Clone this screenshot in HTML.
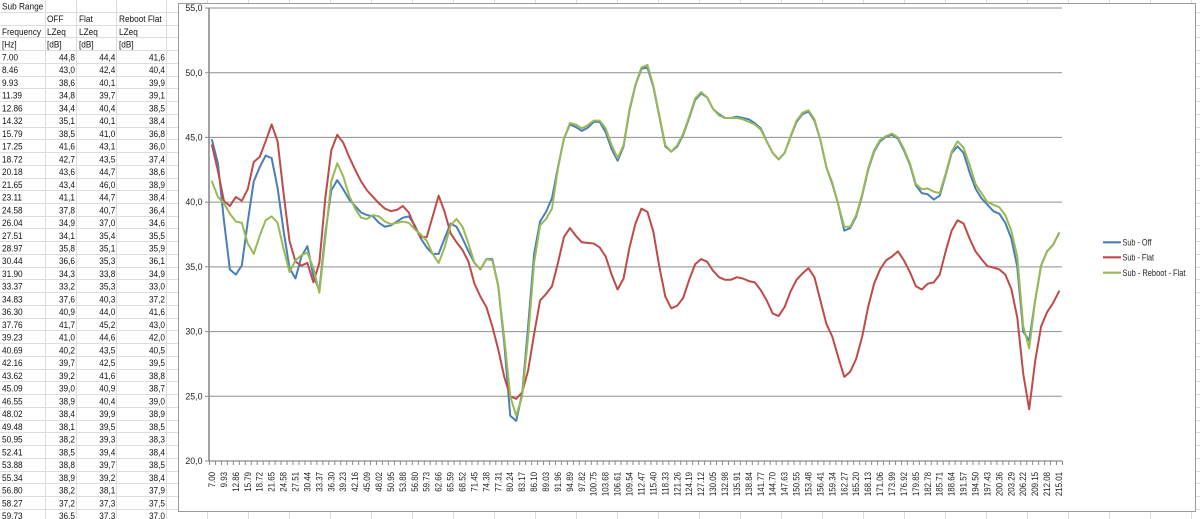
<!DOCTYPE html>
<html><head><meta charset="utf-8"><style>
html,body{margin:0;padding:0;background:#fff;}
svg{display:block;}
text{font-family:"Liberation Sans",sans-serif;}
</style></head><body>
<svg xmlns="http://www.w3.org/2000/svg" width="1200" height="519" viewBox="0 0 1200 519">
<rect width="1200" height="519" fill="#fff"/>
<!-- spreadsheet grid -->
<path fill="none" stroke="#dadcdf" stroke-width="1" d="M0 12.5H1200M0 25.5H1200M0 37.5H1200M0 50.5H1200M0 63.5H1200M0 76.5H1200M0 88.5H1200M0 101.5H1200M0 114.5H1200M0 127.5H1200M0 139.5H1200M0 152.5H1200M0 165.5H1200M0 178.5H1200M0 190.5H1200M0 203.5H1200M0 216.5H1200M0 228.5H1200M0 241.5H1200M0 254.5H1200M0 267.5H1200M0 279.5H1200M0 292.5H1200M0 305.5H1200M0 318.5H1200M0 330.5H1200M0 343.5H1200M0 356.5H1200M0 369.5H1200M0 381.5H1200M0 394.5H1200M0 407.5H1200M0 420.5H1200M0 432.5H1200M0 445.5H1200M0 458.5H1200M0 471.5H1200M0 483.5H1200M0 496.5H1200M0 509.5H1200"/>
<path fill="none" stroke="#dadcdf" stroke-width="1" d="M45.5 0V519M76.5 0V519M116.5 0V519M166.5 0V519M207.5 0V519M248.5 0V519M289.5 0V519M330.5 0V519M371.5 0V519M412.5 0V519M453.5 0V519M494.5 0V519M535.5 0V519M576.5 0V519M617.5 0V519M658.5 0V519M699.5 0V519M740.5 0V519M781.5 0V519M822.5 0V519M863.5 0V519M904.5 0V519M945.5 0V519M986.5 0V519M1027.5 0V519M1068.5 0V519M1109.5 0V519M1150.5 0V519M1191.5 0V519"/>

<!-- spreadsheet text: column A -->
<g transform="translate(2,0) scale(0.86,1)" font-size="9.6" fill="#111">
<text x="0" y="9.4">Sub Range</text>
<text x="0" y="34.9">Frequency</text>
<text x="0" y="47.7">[Hz]</text>
<text x="0" y="60.4">7.00</text>
<text x="0" y="73.1">8.46</text>
<text x="0" y="85.9">9.93</text>
<text x="0" y="98.6">11.39</text>
<text x="0" y="111.4">12.86</text>
<text x="0" y="124.1">14.32</text>
<text x="0" y="136.8">15.79</text>
<text x="0" y="149.6">17.25</text>
<text x="0" y="162.3">18.72</text>
<text x="0" y="175.1">20.18</text>
<text x="0" y="187.8">21.65</text>
<text x="0" y="200.5">23.11</text>
<text x="0" y="213.3">24.58</text>
<text x="0" y="226.0">26.04</text>
<text x="0" y="238.8">27.51</text>
<text x="0" y="251.5">28.97</text>
<text x="0" y="264.2">30.44</text>
<text x="0" y="277.0">31.90</text>
<text x="0" y="289.7">33.37</text>
<text x="0" y="302.5">34.83</text>
<text x="0" y="315.2">36.30</text>
<text x="0" y="327.9">37.76</text>
<text x="0" y="340.7">39.23</text>
<text x="0" y="353.4">40.69</text>
<text x="0" y="366.2">42.16</text>
<text x="0" y="378.9">43.62</text>
<text x="0" y="391.6">45.09</text>
<text x="0" y="404.4">46.55</text>
<text x="0" y="417.1">48.02</text>
<text x="0" y="429.9">49.48</text>
<text x="0" y="442.6">50.95</text>
<text x="0" y="455.3">52.41</text>
<text x="0" y="468.1">53.88</text>
<text x="0" y="480.8">55.34</text>
<text x="0" y="493.6">56.80</text>
<text x="0" y="506.3">58.27</text>
<text x="0" y="519.0">59.73</text>
</g>
<g transform="translate(47,0) scale(0.86,1)" font-size="9.6" fill="#111">
<text x="0" y="22.2">OFF</text><text x="0" y="34.9">LZeq</text><text x="0" y="47.7">[dB]</text>
</g>
<g transform="translate(79,0) scale(0.86,1)" font-size="9.6" fill="#111">
<text x="0" y="22.2">Flat</text><text x="0" y="34.9">LZeq</text><text x="0" y="47.7">[dB]</text>
</g>
<g transform="translate(119,0) scale(0.86,1)" font-size="9.6" fill="#111">
<text x="0" y="22.2">Reboot Flat</text><text x="0" y="34.9">LZeq</text><text x="0" y="47.7">[dB]</text>
</g>
<!-- OFF values -->
<g transform="translate(75,0) scale(0.86,1)" font-size="9.6" fill="#111" text-anchor="end">
<text x="0" y="60.4">44,8</text><text x="0" y="73.1">43,0</text><text x="0" y="85.9">38,6</text><text x="0" y="98.6">34,8</text><text x="0" y="111.4">34,4</text><text x="0" y="124.1">35,1</text><text x="0" y="136.8">38,5</text><text x="0" y="149.6">41,6</text><text x="0" y="162.3">42,7</text><text x="0" y="175.1">43,6</text><text x="0" y="187.8">43,4</text><text x="0" y="200.5">41,1</text><text x="0" y="213.3">37,8</text><text x="0" y="226.0">34,9</text><text x="0" y="238.8">34,1</text><text x="0" y="251.5">35,8</text><text x="0" y="264.2">36,6</text><text x="0" y="277.0">34,3</text><text x="0" y="289.7">33,2</text><text x="0" y="302.5">37,6</text><text x="0" y="315.2">40,9</text><text x="0" y="327.9">41,7</text><text x="0" y="340.7">41,0</text><text x="0" y="353.4">40,2</text><text x="0" y="366.2">39,7</text><text x="0" y="378.9">39,2</text><text x="0" y="391.6">39,0</text><text x="0" y="404.4">38,9</text><text x="0" y="417.1">38,4</text><text x="0" y="429.9">38,1</text><text x="0" y="442.6">38,2</text><text x="0" y="455.3">38,5</text><text x="0" y="468.1">38,8</text><text x="0" y="480.8">38,9</text><text x="0" y="493.6">38,2</text><text x="0" y="506.3">37,2</text><text x="0" y="519.0">36,5</text>
</g>
<!-- Flat values -->
<g transform="translate(115.3,0) scale(0.86,1)" font-size="9.6" fill="#111" text-anchor="end">
<text x="0" y="60.4">44,4</text><text x="0" y="73.1">42,4</text><text x="0" y="85.9">40,1</text><text x="0" y="98.6">39,7</text><text x="0" y="111.4">40,4</text><text x="0" y="124.1">40,1</text><text x="0" y="136.8">41,0</text><text x="0" y="149.6">43,1</text><text x="0" y="162.3">43,5</text><text x="0" y="175.1">44,7</text><text x="0" y="187.8">46,0</text><text x="0" y="200.5">44,7</text><text x="0" y="213.3">40,7</text><text x="0" y="226.0">37,0</text><text x="0" y="238.8">35,4</text><text x="0" y="251.5">35,1</text><text x="0" y="264.2">35,3</text><text x="0" y="277.0">33,8</text><text x="0" y="289.7">35,3</text><text x="0" y="302.5">40,3</text><text x="0" y="315.2">44,0</text><text x="0" y="327.9">45,2</text><text x="0" y="340.7">44,6</text><text x="0" y="353.4">43,5</text><text x="0" y="366.2">42,5</text><text x="0" y="378.9">41,6</text><text x="0" y="391.6">40,9</text><text x="0" y="404.4">40,4</text><text x="0" y="417.1">39,9</text><text x="0" y="429.9">39,5</text><text x="0" y="442.6">39,3</text><text x="0" y="455.3">39,4</text><text x="0" y="468.1">39,7</text><text x="0" y="480.8">39,2</text><text x="0" y="493.6">38,1</text><text x="0" y="506.3">37,3</text><text x="0" y="519.0">37,3</text>
</g>
<!-- Reboot Flat values -->
<g transform="translate(165,0) scale(0.86,1)" font-size="9.6" fill="#111" text-anchor="end">
<text x="0" y="60.4">41,6</text><text x="0" y="73.1">40,4</text><text x="0" y="85.9">39,9</text><text x="0" y="98.6">39,1</text><text x="0" y="111.4">38,5</text><text x="0" y="124.1">38,4</text><text x="0" y="136.8">36,8</text><text x="0" y="149.6">36,0</text><text x="0" y="162.3">37,4</text><text x="0" y="175.1">38,6</text><text x="0" y="187.8">38,9</text><text x="0" y="200.5">38,4</text><text x="0" y="213.3">36,4</text><text x="0" y="226.0">34,6</text><text x="0" y="238.8">35,5</text><text x="0" y="251.5">35,9</text><text x="0" y="264.2">36,1</text><text x="0" y="277.0">34,9</text><text x="0" y="289.7">33,0</text><text x="0" y="302.5">37,2</text><text x="0" y="315.2">41,6</text><text x="0" y="327.9">43,0</text><text x="0" y="340.7">42,0</text><text x="0" y="353.4">40,5</text><text x="0" y="366.2">39,5</text><text x="0" y="378.9">38,8</text><text x="0" y="391.6">38,7</text><text x="0" y="404.4">39,0</text><text x="0" y="417.1">38,9</text><text x="0" y="429.9">38,5</text><text x="0" y="442.6">38,3</text><text x="0" y="455.3">38,4</text><text x="0" y="468.1">38,5</text><text x="0" y="480.8">38,4</text><text x="0" y="493.6">37,9</text><text x="0" y="506.3">37,5</text><text x="0" y="519.0">37,0</text>
</g>

<!-- chart area -->
<rect x="178.5" y="3.5" width="1017" height="508" fill="#fff" stroke="#9a9a9a" stroke-width="1"/>

<!-- gridlines -->
<path fill="none" stroke="#8f8f8f" stroke-width="1" d="M209 8H1062M209 72.7H1062M209 137.4H1062M209 202.1H1062M209 266.9H1062M209 331.6H1062M209 396.3H1062"/>
<!-- y ticks -->
<path fill="none" stroke="#8a8a8a" stroke-width="1" d="M205 8H209M205 72.7H209M205 137.4H209M205 202.1H209M205 266.9H209M205 331.6H209M205 396.3H209M205 461H209"/>
<!-- axes -->
<path fill="none" stroke="#8a8a8a" stroke-width="1.6" d="M209 7.5V461.5"/>
<path fill="none" stroke="#8a8a8a" stroke-width="1.2" d="M208.5 461H1062"/>
<line x1="209" y1="463" x2="1063" y2="463" stroke="#8a8a8a" stroke-width="4" stroke-dasharray="1 4.965"/>

<!-- y labels -->
<g font-size="8.8" fill="#222" text-anchor="end">
<text x="202.5" y="11.1">55,0</text>
<text x="202.5" y="75.8">50,0</text>
<text x="202.5" y="140.5">45,0</text>
<text x="202.5" y="205.2">40,0</text>
<text x="202.5" y="270.0">35,0</text>
<text x="202.5" y="334.7">30,0</text>
<text x="202.5" y="399.4">25,0</text>
<text x="202.5" y="464.1">20,0</text>
</g>

<!-- x labels -->
<g transform="rotate(-90) scale(0.9,1)" font-size="8.8" fill="#222" text-anchor="end">
<text x="-524.4" y="215.0">7.00</text>
<text x="-524.4" y="226.9">9.93</text>
<text x="-524.4" y="238.8">12.86</text>
<text x="-524.4" y="250.8">15.79</text>
<text x="-524.4" y="262.7">18.72</text>
<text x="-524.4" y="274.6">21.65</text>
<text x="-524.4" y="286.6">24.58</text>
<text x="-524.4" y="298.5">27.51</text>
<text x="-524.4" y="310.4">30.44</text>
<text x="-524.4" y="322.4">33.37</text>
<text x="-524.4" y="334.3">36.30</text>
<text x="-524.4" y="346.2">39.23</text>
<text x="-524.4" y="358.1">42.16</text>
<text x="-524.4" y="370.1">45.09</text>
<text x="-524.4" y="382.0">48.02</text>
<text x="-524.4" y="393.9">50.95</text>
<text x="-524.4" y="405.9">53.88</text>
<text x="-524.4" y="417.8">56.80</text>
<text x="-524.4" y="429.7">59.73</text>
<text x="-524.4" y="441.7">62.66</text>
<text x="-524.4" y="453.6">65.59</text>
<text x="-524.4" y="465.5">68.52</text>
<text x="-524.4" y="477.4">71.45</text>
<text x="-524.4" y="489.4">74.38</text>
<text x="-524.4" y="501.3">77.31</text>
<text x="-524.4" y="513.2">80.24</text>
<text x="-524.4" y="525.2">83.17</text>
<text x="-524.4" y="537.1">86.10</text>
<text x="-524.4" y="549.0">89.03</text>
<text x="-524.4" y="561.0">91.96</text>
<text x="-524.4" y="572.9">94.89</text>
<text x="-524.4" y="584.8">97.82</text>
<text x="-524.4" y="596.7">100.75</text>
<text x="-524.4" y="608.7">103.68</text>
<text x="-524.4" y="620.6">106.61</text>
<text x="-524.4" y="632.5">109.54</text>
<text x="-524.4" y="644.5">112.47</text>
<text x="-524.4" y="656.4">115.40</text>
<text x="-524.4" y="668.3">118.33</text>
<text x="-524.4" y="680.3">121.26</text>
<text x="-524.4" y="692.2">124.19</text>
<text x="-524.4" y="704.1">127.12</text>
<text x="-524.4" y="716.0">130.05</text>
<text x="-524.4" y="728.0">132.98</text>
<text x="-524.4" y="739.9">135.91</text>
<text x="-524.4" y="751.8">138.84</text>
<text x="-524.4" y="763.8">141.77</text>
<text x="-524.4" y="775.7">144.70</text>
<text x="-524.4" y="787.6">147.63</text>
<text x="-524.4" y="799.6">150.55</text>
<text x="-524.4" y="811.5">153.48</text>
<text x="-524.4" y="823.4">156.41</text>
<text x="-524.4" y="835.3">159.34</text>
<text x="-524.4" y="847.3">162.27</text>
<text x="-524.4" y="859.2">165.20</text>
<text x="-524.4" y="871.1">168.13</text>
<text x="-524.4" y="883.1">171.06</text>
<text x="-524.4" y="895.0">173.99</text>
<text x="-524.4" y="906.9">176.92</text>
<text x="-524.4" y="918.9">179.85</text>
<text x="-524.4" y="930.8">182.78</text>
<text x="-524.4" y="942.7">185.71</text>
<text x="-524.4" y="954.6">188.64</text>
<text x="-524.4" y="966.6">191.57</text>
<text x="-524.4" y="978.5">194.50</text>
<text x="-524.4" y="990.4">197.43</text>
<text x="-524.4" y="1002.4">200.36</text>
<text x="-524.4" y="1014.3">203.29</text>
<text x="-524.4" y="1026.2">206.22</text>
<text x="-524.4" y="1038.2">209.15</text>
<text x="-524.4" y="1050.1">212.08</text>
<text x="-524.4" y="1062.0">215.01</text>
</g>

<!-- series -->
<g transform="matrix(5.965 0 0 -12.943 211.98 719.86)" fill="none" stroke-width="2" stroke-linejoin="round" stroke-linecap="round">
<polyline vector-effect="non-scaling-stroke" stroke="#4a7ebb" points="0,44.8 1,43.0 2,38.6 3,34.8 4,34.4 5,35.1 6,38.5 7,41.6 8,42.7 9,43.6 10,43.4 11,41.1 12,37.8 13,34.9 14,34.1 15,35.8 16,36.6 17,34.3 18,33.2 19,37.6 20,40.9 21,41.7 22,41.0 23,40.2 24,39.7 25,39.2 26,39.0 27,38.9 28,38.4 29,38.1 30,38.2 31,38.5 32,38.8 33,38.9 34,38.2 35,37.2 36,36.5 37,36.0 38,36.0 39,37.2 40,38.35 41,38.1 42,37.2 43,36.2 44,35.3 45,34.8 46,35.6 47,35.6 48,33.5 49,29.1 50,23.5 51,23.1 52,25.2 53,30.4 54,36.0 55,38.5 56,39.25 57,40.3 58,42.7 59,44.9 60,46.0 61,45.8 62,45.5 63,45.75 64,46.2 65,46.2 66,45.4 67,44.1 68,43.2 69,44.3 70,47.1 71,49.05 72,50.3 73,50.4 74,48.9 75,46.6 76,44.3 77,43.9 78,44.3 79,45.2 80,46.5 81,47.9 82,48.4 83,48.1 84,47.2 85,46.8 86,46.5 87,46.5 88,46.6 89,46.5 90,46.4 91,46.1 92,45.7 93,44.7 94,43.8 95,43.3 96,43.8 97,45.05 98,46.2 99,46.8 100,47.0 101,46.3 102,44.8 103,42.7 104,41.4 105,39.8 106,37.8 107,38.0 108,38.9 109,40.5 110,42.5 111,43.9 112,44.7 113,45.05 114,45.2 115,44.9 116,44.0 117,42.9 118,41.3 119,40.7 120,40.6 121,40.2 122,40.5 123,42.1 124,43.8 125,44.3 126,43.8 127,42.3 128,41.05 129,40.3 130,39.8 131,39.3 132,39.1 133,38.4 134,37.2 135,35.0 136,30.0 137,29.3 138,32.4 139,35.1 140,36.2 141,36.7 142,37.6"/>
<polyline vector-effect="non-scaling-stroke" stroke="#be4b48" points="0,44.4 1,42.4 2,40.1 3,39.7 4,40.4 5,40.1 6,41.0 7,43.1 8,43.5 9,44.7 10,46.0 11,44.7 12,40.7 13,37.0 14,35.4 15,35.1 16,35.3 17,33.8 18,35.3 19,40.3 20,44.0 21,45.2 22,44.6 23,43.5 24,42.5 25,41.6 26,40.9 27,40.4 28,39.9 29,39.5 30,39.3 31,39.4 32,39.7 33,39.2 34,38.1 35,37.3 36,37.3 37,38.9 38,40.5 39,39.25 40,37.6 41,36.9 42,36.3 43,35.4 44,33.7 45,32.7 46,31.9 47,30.4 48,28.6 49,26.5 50,25.0 51,24.8 52,25.3 53,27.0 54,29.8 55,32.4 56,32.9 57,33.5 58,35.3 59,37.3 60,38.0 61,37.4 62,36.9 63,36.85 64,36.8 65,36.5 66,35.8 67,34.4 68,33.25 69,34.1 70,36.5 71,38.35 72,39.5 73,39.25 74,37.7 75,35.0 76,32.7 77,31.8 78,32.0 79,32.6 80,34.0 81,35.2 82,35.6 83,35.4 84,34.7 85,34.2 86,34.0 87,34.0 88,34.2 89,34.1 90,33.9 91,33.8 92,33.2 93,32.4 94,31.4 95,31.2 96,31.9 97,33.1 98,34.0 99,34.5 100,34.9 101,34.2 102,32.4 103,30.6 104,29.6 105,28.0 106,26.5 107,26.9 108,27.9 109,29.6 110,31.9 111,33.7 112,34.8 113,35.5 114,35.8 115,36.2 116,35.5 117,34.6 118,33.5 119,33.25 120,33.7 121,33.8 122,34.4 123,36.2 124,37.8 125,38.6 126,38.35 127,37.2 128,36.2 129,35.6 130,35.05 131,34.95 132,34.8 133,34.4 134,33.3 135,31.1 136,26.75 137,24.0 138,27.7 139,30.4 140,31.5 141,32.2 142,33.1"/>
<polyline vector-effect="non-scaling-stroke" stroke="#98b954" points="0,41.6 1,40.4 2,39.9 3,39.1 4,38.5 5,38.4 6,36.8 7,36.0 8,37.4 9,38.6 10,38.9 11,38.4 12,36.4 13,34.6 14,35.5 15,35.9 16,36.1 17,34.9 18,33.0 19,37.2 20,41.6 21,43.0 22,42.0 23,40.5 24,39.5 25,38.8 26,38.7 27,39.0 28,38.9 29,38.5 30,38.3 31,38.4 32,38.5 33,38.4 34,37.9 35,37.5 36,37.0 37,36.0 38,35.3 39,36.5 40,38.2 41,38.7 42,38.1 43,36.8 44,35.3 45,34.8 46,35.6 47,35.5 48,33.5 49,29.5 50,25.0 51,23.5 52,25.0 53,29.6 54,35.3 55,38.2 56,38.7 57,39.5 58,42.6 59,44.9 60,46.1 61,46.0 62,45.7 63,45.95 64,46.3 65,46.3 66,45.7 67,44.4 68,43.4 69,44.4 70,47.2 71,49.1 72,50.4 73,50.6 74,49.0 75,46.7 76,44.4 77,43.9 78,44.4 79,45.3 80,46.6 81,48.0 82,48.5 83,48.1 84,47.2 85,46.7 86,46.5 87,46.5 88,46.5 89,46.4 90,46.2 91,46.0 92,45.6 93,44.7 94,43.8 95,43.3 96,43.8 97,45.1 98,46.3 99,46.9 100,47.1 101,46.4 102,44.8 103,42.7 104,41.5 105,39.8 106,38.1 107,38.1 108,39.0 109,40.6 110,42.6 111,44.0 112,44.8 113,45.1 114,45.3 115,45.0 116,44.1 117,43.0 118,41.4 119,41.0 120,41.05 121,40.8 122,40.7 123,42.2 124,43.9 125,44.7 126,44.2 127,42.9 128,41.4 129,40.7 130,40.0 131,39.8 132,39.6 133,39.0 134,37.8 135,35.8 136,30.4 137,28.7 138,32.4 139,35.1 140,36.2 141,36.7 142,37.6"/>
</g>

<!-- legend -->
<g stroke-width="2.2" fill="none">
<line x1="1103" y1="242.3" x2="1121" y2="242.3" stroke="#4a7ebb"/>
<line x1="1103" y1="257.3" x2="1121" y2="257.3" stroke="#be4b48"/>
<line x1="1103" y1="272.7" x2="1121" y2="272.7" stroke="#98b954"/>
</g>
<g font-size="9" fill="#222">
<text x="1122.5" y="245.5" textLength="29" lengthAdjust="spacingAndGlyphs">Sub - Off</text>
<text x="1122.5" y="260.5" textLength="31.5" lengthAdjust="spacingAndGlyphs">Sub - Flat</text>
<text x="1122.5" y="275.9" textLength="63" lengthAdjust="spacingAndGlyphs">Sub - Reboot - Flat</text>
</g>
</svg>
</body></html>
